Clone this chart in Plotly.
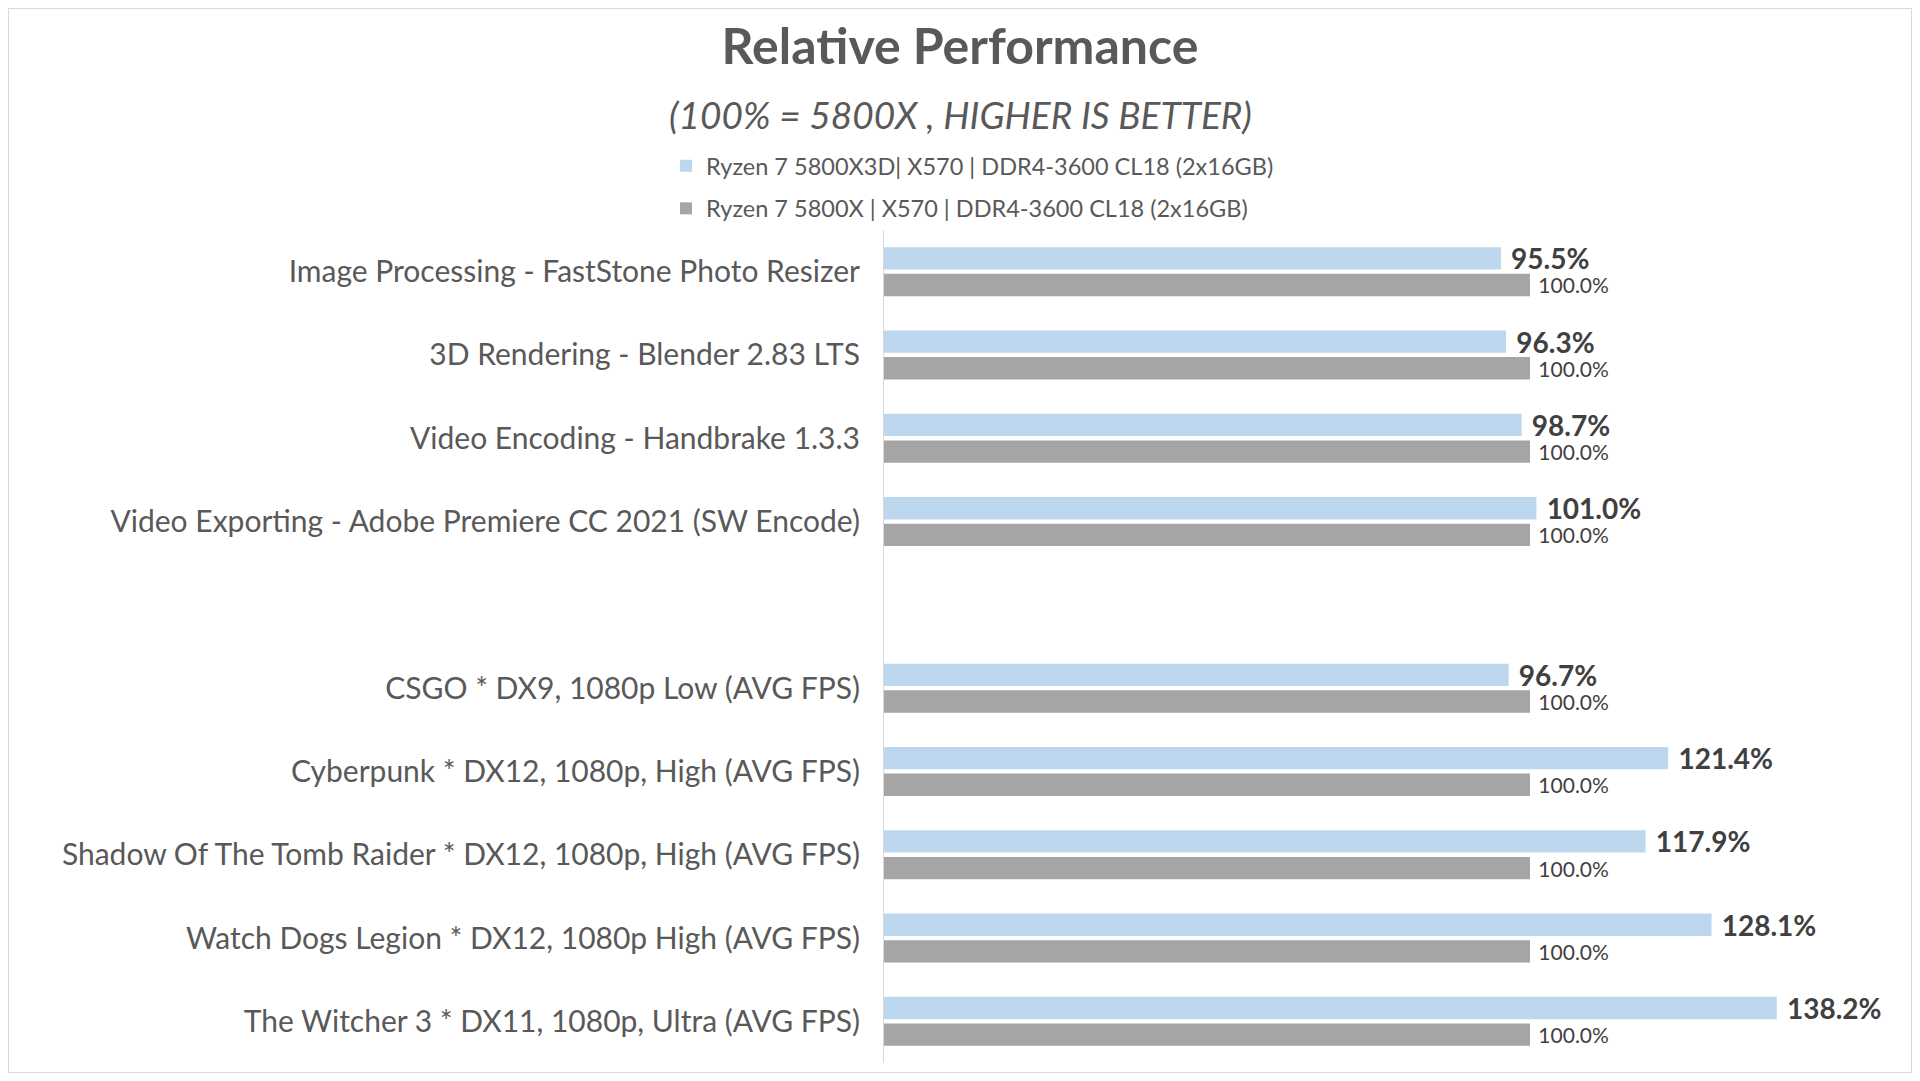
import plotly.graph_objects as go

categories = [
    "Image Processing - FastStone Photo Resizer",
    "3D Rendering - Blender 2.83 LTS",
    "Video Encoding - Handbrake 1.3.3",
    "Video Exporting - Adobe Premiere CC 2021 (SW Encode)",
    " ",
    "CSGO * DX9, 1080p Low (AVG FPS)",
    "Cyberpunk * DX12, 1080p, High (AVG FPS)",
    "Shadow Of The Tomb Raider * DX12, 1080p, High (AVG FPS)",
    "Watch Dogs Legion * DX12, 1080p High (AVG FPS)",
    "The Witcher 3 * DX11, 1080p, Ultra (AVG FPS)",
]
x3d_values = [95.5, 96.3, 98.7, 101.0, None, 96.7, 121.4, 117.9, 128.1, 138.2]
x_values = [100.0, 100.0, 100.0, 100.0, None, 100.0, 100.0, 100.0, 100.0, 100.0]
series_names = [
    "Ryzen 7 5800X3D| X570 | DDR4-3600 CL18 (2x16GB)",
    "Ryzen 7 5800X | X570 | DDR4-3600 CL18 (2x16GB)",
]

FONT = "Lato"
W, H = 1904, 1065
L, R, T, B = 876, 28, 222, 10
PW, PH = W - L - R, H - T - B

fig = go.Figure()
fig.add_trace(go.Bar(
    y=categories, x=x3d_values, orientation="h", name=series_names[0],
    marker=dict(color="#BDD7EE", line=dict(width=0)),
    texttemplate=" <b>%{x:.1f}%</b>", textposition="outside",
    textfont=dict(family=FONT, size=28, color="#404040"),
    constraintext="none",
    cliponaxis=False, legendgroup="a",
))
fig.add_trace(go.Bar(
    y=categories, x=x_values, orientation="h", name=series_names[1],
    marker=dict(color="#A5A5A5", line=dict(width=0)),
    texttemplate=" %{x:.1f}%", textposition="outside",
    textfont=dict(family=FONT, size=21, color="#404040"),
    constraintext="none",
    cliponaxis=False, legendgroup="b",
))

fig.update_layout(
    width=W, height=H,
    paper_bgcolor="white", plot_bgcolor="white",
    barmode="group", bargap=0.36, bargroupgap=0.16,
    margin=dict(l=L, r=R, t=T, b=B, autoexpand=False),
    title=dict(
        text="<b>Relative Performance</b>", x=0.5, xanchor="center",
        y=1 - 38 / H, yanchor="middle",
        font=dict(family=FONT, size=50, color="#595959"),
    ),
    annotations=[dict(
        text="<i>(100% = 5800X , HIGHER IS BETTER)</i>",
        xref="paper", yref="paper", x=(952 - L) / PW, y=(H - B - 107) / PH,
        yanchor="middle", xanchor="center", showarrow=False,
        font=dict(family=FONT, size=37, color="#595959"),
    )],
    legend=dict(
        x=(658 - L) / PW, xanchor="left", y=(H - B - 136) / PH, yanchor="top",
        font=dict(family=FONT, size=23.5, color="#595959"),
        traceorder="grouped", tracegroupgap=9, bgcolor="rgba(0,0,0,0)",
        itemwidth=30,
    ),
    xaxis=dict(range=[0, 154.8], showgrid=False, showticklabels=False,
               zeroline=False, showline=False, ticks=""),
    yaxis=dict(categoryorder="array", categoryarray=categories,
               range=[9.5, -0.5], showline=True, linecolor="#D9D9D9",
               linewidth=1, ticks="", ticklabelstandoff=17,
               tickfont=dict(family=FONT, size=30, color="#595959")),
    shapes=[dict(type="rect", xref="paper", yref="paper",
                 x0=-L / PW, x1=1 + R / PW, y0=-B / PH, y1=1 + T / PH,
                 line=dict(color="#D9D9D9", width=2))],
)

fig.write_html("out.html")
